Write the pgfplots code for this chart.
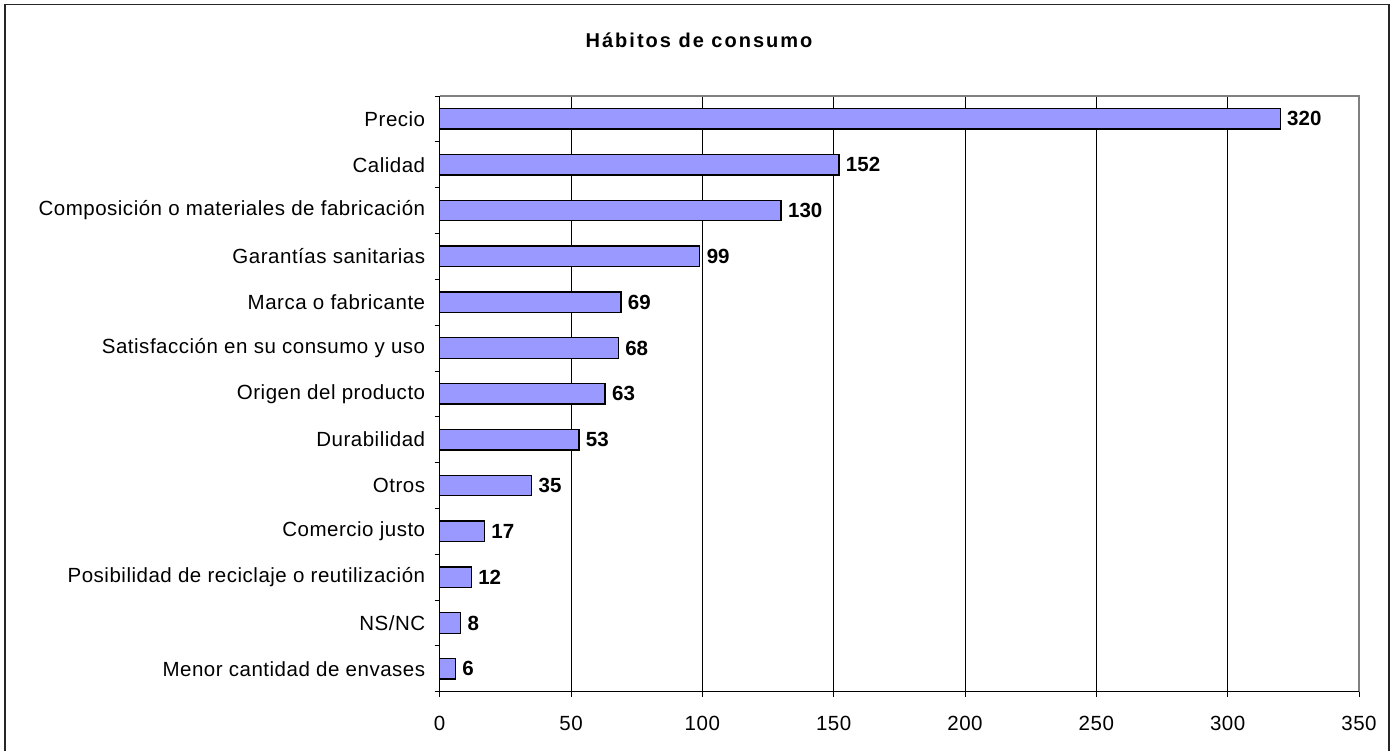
\documentclass[border=0pt]{standalone}
\usepackage{fontspec}
\setmainfont{Liberation Sans}
\usepackage{pgfplots}
\pgfplotsset{compat=1.18}
\definecolor{barfill}{RGB}{153,153,255}
\definecolor{framegray}{RGB}{128,128,128}
\begin{document}
\begin{tikzpicture}[x=1pt,y=1pt]
\useasboundingbox (0pt,0pt) rectangle (1395pt,751pt);
\begin{scope}
\clip (0pt,0pt) rectangle (1395pt,751pt);
\draw[line width=1.5pt,black!85] (5pt,746.5pt) -- (5pt,-5pt);
\draw[line width=1.5pt,black!85] (5pt,746.5pt) -- (1389pt,746.5pt) -- (1389pt,-5pt);
\end{scope}
\node[font=\fontsize{20}{24}\selectfont\bfseries\addfontfeature{LetterSpace=10}] at (699pt,711pt) {Hábitos de consumo};
\begin{axis}[
  at={(439.7pt,59.3pt)}, anchor=south west,
  scale only axis, width=919.3pt, height=595.7pt,
  xbar, bar width=20.5pt,
  xmin=0, xmax=350, ymin=-0.5, ymax=12.5,
  xtick={0,50,...,350},
  ytick={0,...,12},
  yticklabels={Menor cantidad de envases,NS/NC,Posibilidad de reciclaje o reutilización,Comercio justo,Otros,Durabilidad,Origen del producto,Satisfacción en su consumo y uso,Marca o fabricante,Garantías sanitarias,Composición o materiales de fabricación,Calidad,Precio},
  minor ytick={-0.5,0.5,...,12.5},
  major y tick style={draw=none},
  minor tick length=5pt,
  major tick length=5pt,
  tick align=outside,
  xtick pos=bottom, ytick pos=left,
  x tick style={black, line width=0.8pt},
  minor y tick style={black, line width=0.8pt},
  xmajorgrids, grid style={black, line width=0.8pt},
  axis line style={draw=none},
  ticklabel style={font=\fontsize{20.5}{24}\selectfont\addfontfeature{LetterSpace=2.5}},
  /pgf/number format/assume math mode=true,
  yticklabel style={xshift=-6pt},
  xticklabel style={yshift=-16pt},
  nodes near coords,
  nodes near coords style={font=\fontsize{20.5}{24}\selectfont\bfseries, anchor=west, xshift=3pt},
  clip=false,
]
\addplot[fill=barfill, draw=black, line width=1.4pt] coordinates {
(6,0) (8,1) (12,2) (17,3) (35,4) (53,5) (63,6) (68,7) (69,8) (99,9) (130,10) (152,11) (320,12)};
\draw[framegray, line width=1.2pt] (axis cs:0,12.5) -- (axis cs:350,12.5) -- (axis cs:350,-0.5);
\draw[black, line width=1.2pt] (axis cs:0,12.5) -- (axis cs:0,-0.5) -- (axis cs:350,-0.5);
\end{axis}
\end{tikzpicture}
\end{document}
